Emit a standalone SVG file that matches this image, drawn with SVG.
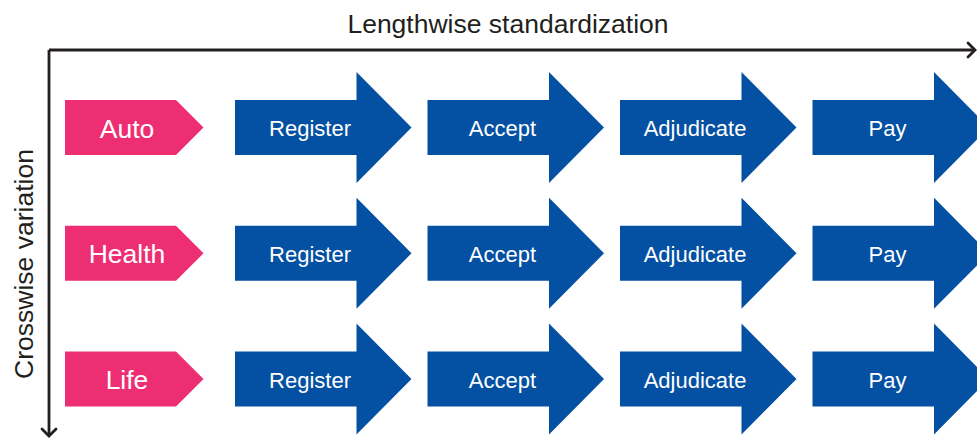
<svg xmlns="http://www.w3.org/2000/svg" width="977" height="440" viewBox="0 0 977 440">
<defs>
<style>
.axis{fill:none;stroke:#231f20;stroke-width:2.8}
.head{fill:none;stroke:#231f20;stroke-width:2.8;stroke-linecap:round;stroke-linejoin:miter}
.ttl{font-family:"Liberation Sans",Arial,sans-serif;font-size:26.5px;fill:#231f20;text-anchor:middle}
.cat{fill:#ee2e72}
.step{fill:#0450a3}
.catt{font-family:"Liberation Sans",Arial,sans-serif;font-size:26.5px;fill:#fff;text-anchor:middle}
.stept{font-family:"Liberation Sans",Arial,sans-serif;font-size:22px;fill:#fff;text-anchor:middle}
</style>
<path id="cat" d="M0,-27.5 H111 L138.5,0 L111,27.5 H0 Z"/>
<path id="step" d="M0,-27.5 H121.5 V-55.5 L176.5,0 L121.5,55.5 V27.5 H0 Z"/>
</defs>
<g id="connectors">
<path class="axis" d="M49,50 H975"/>
<path class="head" d="M968,43 L975,50 L968,57"/>
<path class="axis" d="M49,50 V436"/>
<path class="head" d="M42,429 L49,436 L56,429"/>
</g>
<g id="axis-labels">
<text class="ttl" x="508" y="33">Lengthwise standardization</text>
<text class="ttl" transform="translate(33,264) rotate(-90)" x="0" y="0">Crosswise variation</text>
</g>
<g id="auto"><use href="#cat" class="cat" x="65" y="127.5"/><text class="catt" x="127" y="137.5">Auto</text></g>
<g id="health"><use href="#cat" class="cat" x="65" y="253.3"/><text class="catt" x="127" y="263.3">Health</text></g>
<g id="life"><use href="#cat" class="cat" x="65" y="379"/><text class="catt" x="127" y="389">Life</text></g>
<g id="auto-register"><use href="#step" class="step" x="235" y="127.5"/><text class="stept" x="310" y="136">Register</text></g>
<g id="auto-accept"><use href="#step" class="step" x="427.5" y="127.5"/><text class="stept" x="502.5" y="136">Accept</text></g>
<g id="auto-adjudicate"><use href="#step" class="step" x="620" y="127.5"/><text class="stept" x="695" y="136">Adjudicate</text></g>
<g id="auto-pay"><use href="#step" class="step" x="812.5" y="127.5"/><text class="stept" x="887.5" y="136">Pay</text></g>
<g id="health-register"><use href="#step" class="step" x="235" y="253.3"/><text class="stept" x="310" y="262">Register</text></g>
<g id="health-accept"><use href="#step" class="step" x="427.5" y="253.3"/><text class="stept" x="502.5" y="262">Accept</text></g>
<g id="health-adjudicate"><use href="#step" class="step" x="620" y="253.3"/><text class="stept" x="695" y="262">Adjudicate</text></g>
<g id="health-pay"><use href="#step" class="step" x="812.5" y="253.3"/><text class="stept" x="887.5" y="262">Pay</text></g>
<g id="life-register"><use href="#step" class="step" x="235" y="379"/><text class="stept" x="310" y="388">Register</text></g>
<g id="life-accept"><use href="#step" class="step" x="427.5" y="379"/><text class="stept" x="502.5" y="388">Accept</text></g>
<g id="life-adjudicate"><use href="#step" class="step" x="620" y="379"/><text class="stept" x="695" y="388">Adjudicate</text></g>
<g id="life-pay"><use href="#step" class="step" x="812.5" y="379"/><text class="stept" x="887.5" y="388">Pay</text></g>
</svg>
